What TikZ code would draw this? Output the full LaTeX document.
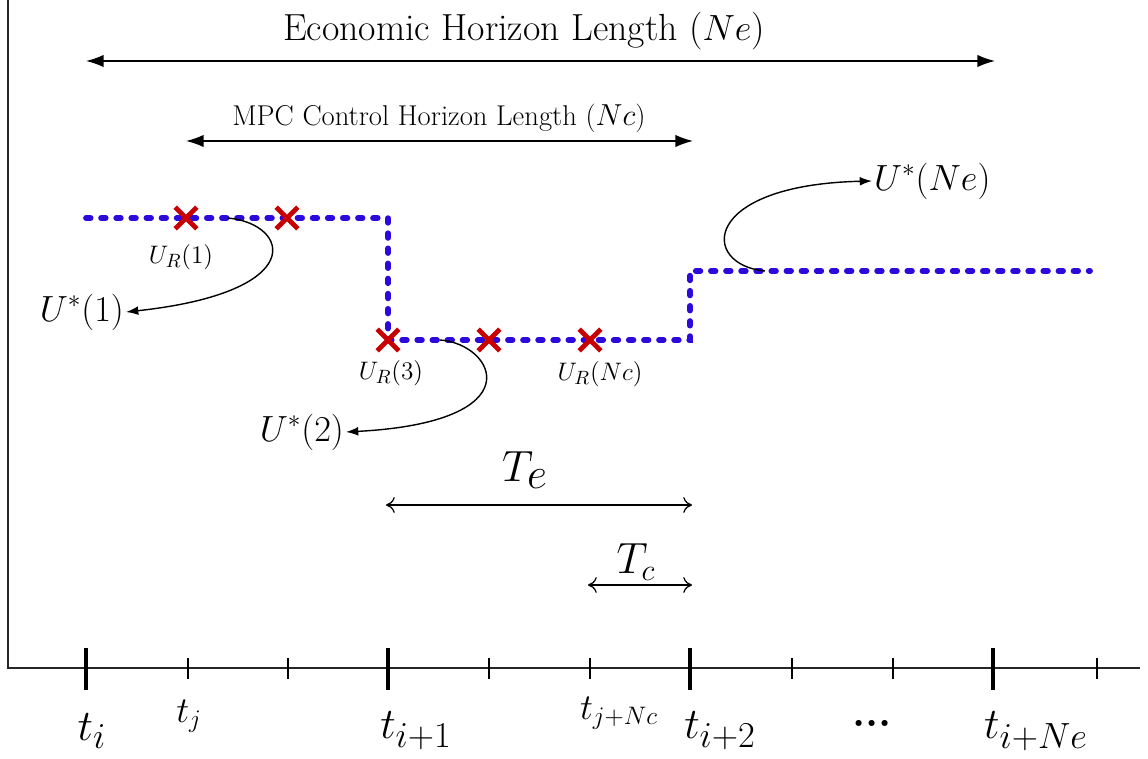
\documentclass[tikz,border=0pt]{standalone}
\usetikzlibrary{arrows.meta,shapes.misc}
\definecolor{stepblue}{RGB}{45,10,220}
\definecolor{markred}{RGB}{200,0,0}
\begin{document}
\begin{tikzpicture}[x=0.02cm,y=-0.02cm,
  axisline/.style={line width=1pt,black!85},
  majortick/.style={line width=1.8pt},
  minortick/.style={line width=0.8pt},
  horizon/.style={line width=0.8pt,{Latex[length=10pt,width=7pt]}-{Latex[length=10pt,width=7pt]}},
  spanarrow/.style={line width=0.7pt,{To[length=5pt,width=9pt]}-{To[length=5pt,width=9pt]}},
  stepline/.style={stepblue,line width=3.3pt,dash pattern=on 2.6pt off 6pt,line cap=round},
  xmark/.style={cross out,draw=markred,line width=2.8pt,minimum size=9.5pt,inner sep=0pt},
  callout/.style={line width=0.8pt,-{Latex[length=7pt,width=5pt]}},
  lbl/.style={inner sep=1pt},
  ticklbl/.style={inner sep=0pt,font=\fontsize{31}{31}\selectfont},
]
\useasboundingbox (0,0) rectangle (1148,759);
% axes
\coordinate (otop) at (8,0);
\coordinate (orig) at (8,668);
\coordinate (xend) at (1140,668);
\draw[axisline] (otop) -- (orig) -- (xend);
% ticks
\foreach \x/\n in {86/a,388/b,690/c,993/d}{
  \coordinate (M\n1) at (\x,648); \coordinate (M\n2) at (\x,690);
  \draw[majortick] (M\n1) -- (M\n2);}
\foreach \x/\n in {188/a,288/b,489/c,590/d,792/e,893/f,1097/g}{
  \coordinate (m\n1) at (\x,658); \coordinate (m\n2) at (\x,679);
  \draw[minortick] (m\n1) -- (m\n2);}
% tick labels
\node[ticklbl] (ti) at (92,731) {$t_i$};
\node[lbl] (tj) at (189,716) {\fontsize{20}{20}\selectfont $t_j$};
\node[ticklbl] (ti1) at (416,731) {$t_{i+1}$};
\node[lbl] (tjN) at (619,713) {\fontsize{21}{21}\selectfont $t_{j+Nc}$};
\node[ticklbl] (ti2) at (720,731) {$t_{i+2}$};
\node[lbl] (dots) at (872,723) {\fontsize{24}{24}\selectfont\bfseries ...};
\node[ticklbl] (tiN) at (1036,731) {$t_{i+Ne}$};
% horizon arrows
\node[lbl] (econ) at (524,31) {\fontsize{21.5}{25}\selectfont Economic Horizon Length ($Ne$)};
\coordinate (e1) at (86,61); \coordinate (e2) at (995,61);
\draw[horizon] (e1) -- (e2);
\node[lbl] (mpc) at (439,118) {\fontsize{16.3}{19}\selectfont MPC Control Horizon Length ($Nc$)};
\coordinate (c1) at (186,141); \coordinate (c2) at (693,141);
\draw[horizon] (c1) -- (c2);
% step line
\coordinate (s0) at (86,218); \coordinate (s1) at (388,218);
\coordinate (s2) at (388,340); \coordinate (s3) at (690,340);
\coordinate (s4) at (690,271); \coordinate (s5) at (1090,271);
\draw[stepline] (s0) -- (s1) -- (s2) -- (s3) -- (s4) -- (s5);
% marks
\node[xmark] (x1) at (186,218) {};
\node[xmark] (x2) at (287,218) {};
\node[xmark] (x3) at (388,340) {};
\node[xmark] (x4) at (489,340) {};
\node[xmark] (x5) at (590,340) {};
\node[lbl] (ur1) at (181,257) {\fontsize{15}{15}\selectfont $U_R(1)$};
\node[lbl] (ur3) at (391,373) {\fontsize{15}{15}\selectfont $U_R(3)$};
\node[lbl] (urN) at (600,374) {\fontsize{15}{15}\selectfont $U_R(Nc)$};
% callouts
\node[lbl,anchor=east] (us1) at (126,312) {\fontsize{20}{20}\selectfont $U^*(1)$};
\node[lbl,anchor=east] (us2) at (346,432) {\fontsize{20}{20}\selectfont $U^*(2)$};
\node[lbl,anchor=west] (usN) at (872,181) {\fontsize{20}{20}\selectfont $U^*(Ne)$};
\coordinate (p1) at (228,218);
\coordinate (p2) at (440,340);
\coordinate (p3) at (765,271);
\draw[callout] (p1) .. controls (290,224) and (310,292) .. (us1.east);
\draw[callout] (p2) .. controls (495,344) and (535,422) .. (us2.east);
\draw[callout] (p3) .. controls (700,265) and (700,185) .. (usN.west);
% T spans
\node[lbl] (Te) at (525,470) {\fontsize{33}{33}\selectfont $T_e$};
\coordinate (te1) at (386,505); \coordinate (te2) at (692,505);
\draw[spanarrow] (te1) -- (te2);
\node[lbl] (Tc) at (636,562) {\fontsize{24}{24}\selectfont $T_c$};
\coordinate (tc1) at (588,585); \coordinate (tc2) at (692,585);
\draw[spanarrow] (tc1) -- (tc2);
\end{tikzpicture}
\end{document}
